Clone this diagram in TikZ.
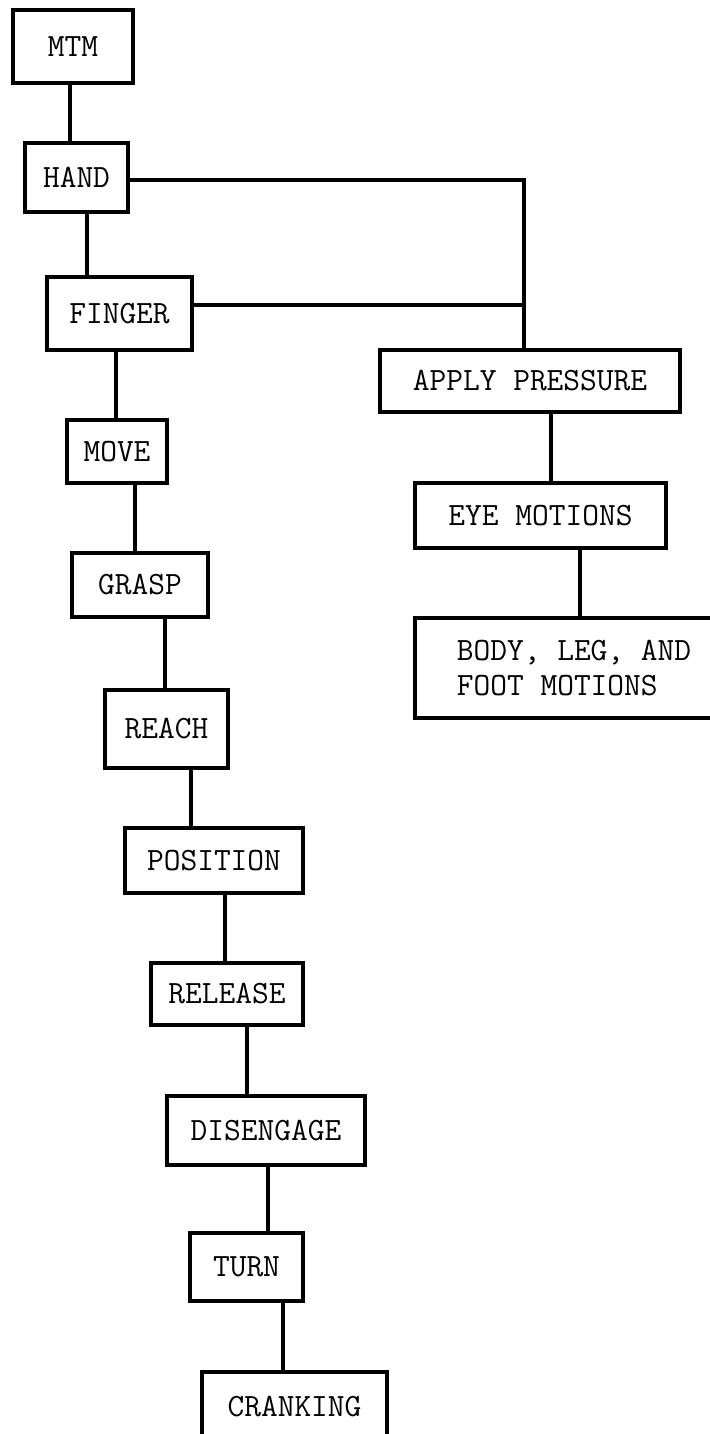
\documentclass[tikz,border=0pt]{standalone}
\usepackage{tikz}
\usetikzlibrary{positioning, calc}
\tikzset{
    basebox/.style={
        draw=black,
        line width=2.7pt,
        align=center,
        inner sep=0pt,
        font=\ttfamily\fontsize{18.5}{20}\selectfont
    },
    motionbox/.style={basebox, minimum height=1.3cm},
    mylink/.style={line width=2.1pt, draw=black}
}

\begin{document}
\begin{tikzpicture}[x=0.02cm, y=-0.02cm]

    % Marco de la pagina
    \useasboundingbox (0,0) rectangle (710,1434);
    \clip (0,0) rectangle (710,1434);

    % 1. Columna izquierda (movimientos de la mano)
    \node[motionbox, minimum width=2.4cm, minimum height=1.46cm] (mtm) at (73, 46.5) {MTM};
    \node[motionbox, minimum width=2.06cm, minimum height=1.38cm] (hand) at (76.5, 177.5) {HAND};
    \node[motionbox, minimum width=2.9cm, minimum height=1.46cm] (finger) at (119.5, 313.5) {FINGER};
    \node[motionbox, minimum width=2.0cm, minimum height=1.26cm] (move) at (117, 451.5) {MOVE};
    \node[motionbox, minimum width=2.72cm, minimum height=1.28cm] (grasp) at (140, 585) {GRASP};
    \node[motionbox, minimum width=2.46cm, minimum height=1.56cm] (reach) at (166.5, 729) {REACH};
    \node[motionbox, minimum width=3.56cm, minimum height=1.3cm] (position) at (214, 860.5) {POSITION};
    \node[motionbox, minimum width=3.04cm, minimum height=1.24cm] (release) at (227, 994) {RELEASE};
    \node[motionbox, minimum width=3.96cm, minimum height=1.38cm] (disengage) at (266, 1130.5) {DISENGAGE};
    \node[motionbox, minimum width=2.26cm, minimum height=1.36cm] (turn) at (246.5, 1267) {TURN};
    \node[motionbox, minimum width=3.7cm, minimum height=1.4cm] (cranking) at (294.5, 1407) {CRANKING};

    % 2. Columna derecha
    \node[motionbox, minimum width=6.0cm, minimum height=1.24cm] (pressure) at (530, 381) {APPLY PRESSURE};
    \node[motionbox, minimum width=5.02cm, minimum height=1.3cm] (eye) at (540.5, 515.5) {EYE MOTIONS};
    \node[motionbox, align=left, minimum width=6.36cm, minimum height=2.0cm] (body) at (574, 668) {BODY, LEG, AND\\FOOT MOTIONS};

    % Linea vertical que baja a APPLY PRESSURE
    \coordinate (bus) at (524, 0);

    % ==========================================
    % Conexiones
    % ==========================================

    % Cadena izquierda
    \draw[mylink] ([xshift=-0.06cm]mtm.south) -- ([xshift=-0.06cm]mtm.south |- hand.north);
    \draw[mylink] ([xshift=0.21cm]hand.south) -- ([xshift=0.21cm]hand.south |- finger.north);
    \draw[mylink] ([xshift=-0.07cm]finger.south) -- ([xshift=-0.07cm]finger.south |- move.north);
    \draw[mylink] ([xshift=0.36cm]move.south) -- ([xshift=0.36cm]move.south |- grasp.north);
    \draw[mylink] ([xshift=0.5cm]grasp.south) -- ([xshift=0.5cm]grasp.south |- reach.north);
    \draw[mylink] ([xshift=0.49cm]reach.south) -- ([xshift=0.49cm]reach.south |- position.north);
    \draw[mylink] ([xshift=0.22cm]position.south) -- ([xshift=0.22cm]position.south |- release.north);
    \draw[mylink] ([xshift=0.4cm]release.south) -- ([xshift=0.4cm]release.south |- disengage.north);
    \draw[mylink] ([xshift=0.04cm]disengage.south) -- ([xshift=0.04cm]disengage.south |- turn.north);
    \draw[mylink] ([xshift=0.73cm]turn.south) -- ([xshift=0.73cm]turn.south |- cranking.north);

    % HAND y FINGER hacia APPLY PRESSURE
    \draw[mylink] ([yshift=-0.05cm]hand.east) -- ([yshift=-0.05cm]hand.east -| bus) -- (pressure.north -| bus);
    \draw[mylink] ([yshift=0.17cm]finger.east) -- ([yshift=0.17cm]finger.east -| bus);

    % Cadena derecha
    \draw[mylink] ([xshift=0.42cm]pressure.south) -- ([xshift=0.42cm]pressure.south |- eye.north);
    \draw[mylink] ([xshift=0.79cm]eye.south) -- ([xshift=0.79cm]eye.south |- body.north);

\end{tikzpicture}
\end{document}
